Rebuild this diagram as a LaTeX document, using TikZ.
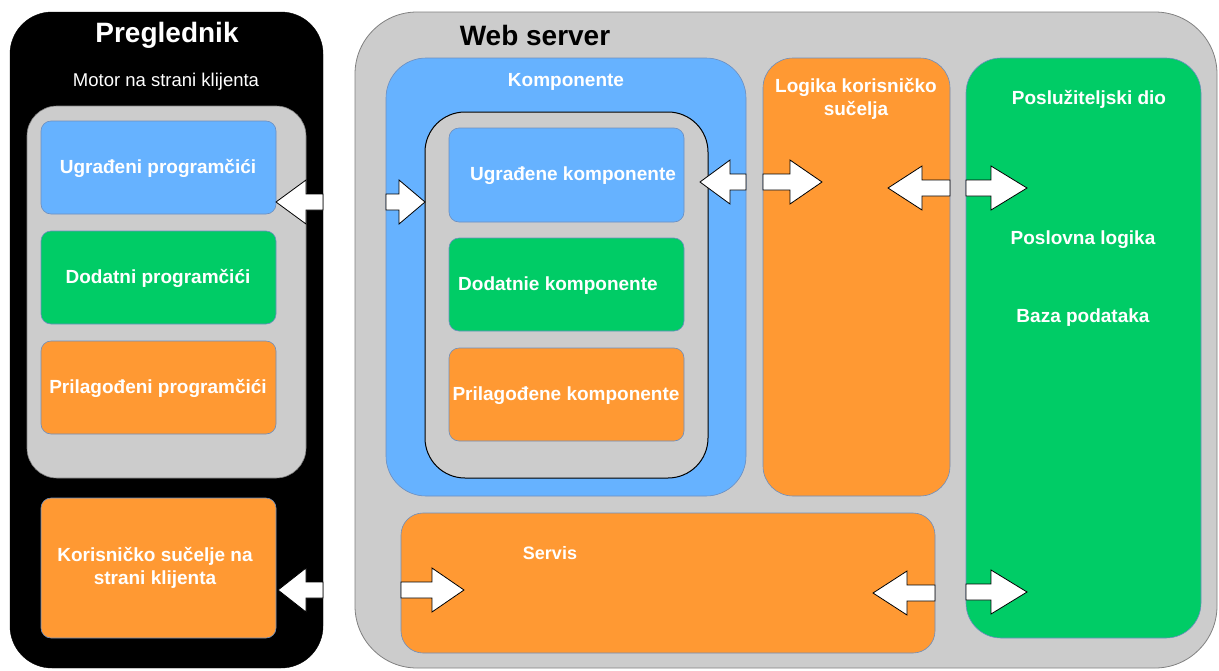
\documentclass[tikz,border=0pt]{standalone}
\usepackage{fontspec}
\setmainfont{Liberation Sans}
\definecolor{cblue}{HTML}{66B2FF}
\definecolor{cgreen}{HTML}{00CC66}
\definecolor{corange}{HTML}{FF9933}
\definecolor{cgray}{HTML}{CCCCCC}
\definecolor{cedge}{HTML}{6C8EBF}
\definecolor{gedge}{HTML}{808080}
\tikzset{
  px/.style={x=1pt,y=-1pt},
  lbl/.style={text=white,font=\fontsize{19}{23}\selectfont\bfseries,align=center,inner sep=0pt,yshift=-2pt},
  title/.style={text=black,font=\fontsize{28}{32}\selectfont\bfseries,inner sep=0pt,yshift=-2pt},
  inbox/.style={draw=cedge,line width=0.6pt,rounded corners=10pt},
  barrow/.style={draw=black,fill=white,line width=0.8pt,line join=miter},
}
% right-pointing block arrow: tail x, tip x, centre y, head length
\newcommand{\arrR}[4]{\draw[barrow] ({#1},{#3-8}) -- ({#2-#4},{#3-8}) -- ({#2-#4},{#3-22}) -- ({#2},{#3}) -- ({#2-#4},{#3+22}) -- ({#2-#4},{#3+8}) -- ({#1},{#3+8}) -- cycle;}
% left-pointing block arrow: tip x, tail x, centre y, head length
\newcommand{\arrL}[4]{\draw[barrow] ({#2},{#3-8}) -- ({#1+#4},{#3-8}) -- ({#1+#4},{#3-22}) -- ({#1},{#3}) -- ({#1+#4},{#3+22}) -- ({#1+#4},{#3+8}) -- ({#2},{#3+8}) -- cycle;}
\begin{document}
\begin{tikzpicture}[px]
\useasboundingbox (0,0) rectangle (1219,670);
% Preglednik
\path[fill=black,draw=black,rounded corners=42pt] (10,12) rectangle (323,668);
\node[title,text=white] (pregl) at (167,33) {Preglednik};
\node[inner sep=0pt,yshift=-2pt,text=white,font=\fontsize{18.5}{22}\selectfont] (motor) at (166,80) {Motor na strani klijenta};
\path[fill=cgray,draw=gedge,line width=0.6pt,rounded corners=30pt] (27,106) rectangle (306,478);
\path[inbox,fill=cblue] (41,121) rectangle (276,214);
\node[lbl] (ugp) at (158,166) {Ugrađeni programčići};
\path[inbox,fill=cgreen] (41,231) rectangle (276,324);
\node[lbl] (dop) at (158,276) {Dodatni programčići};
\path[inbox,fill=corange] (41,341) rectangle (276,434);
\node[lbl] (prp) at (158,386) {Prilagođeni programčići};
\path[inbox,fill=corange] (41,498) rectangle (276,638);
\node[lbl] (kor) at (155,566) {Korisničko sučelje na\\strani klijenta};
% Web server
\path[fill=cgray,draw=gedge,line width=0.8pt,rounded corners=62pt] (355,12) rectangle (1217,668);
\node[title] (web) at (535,33) {Web server};
\path[fill=cblue,draw=cedge,line width=0.6pt,rounded corners=40pt] (386,58) rectangle (746,496);
\node[lbl] (komp) at (566,80) {Komponente};
\path[fill=cgray,draw=black,line width=1pt,rounded corners=40pt] (425,112) rectangle (708,478);
\path[inbox,fill=cblue] (449,128) rectangle (684,222);
\node[lbl] (ugk) at (573,174) {Ugrađene komponente};
\path[inbox,fill=cgreen] (449,238) rectangle (684,331);
\node[lbl] (dok) at (558,284) {Dodatnie komponente};
\path[inbox,fill=corange] (449,348) rectangle (684,441);
\node[lbl] (prk) at (566,394) {Prilagođene komponente};
\path[fill=corange,draw=cedge,line width=0.6pt,rounded corners=30pt] (763,58) rectangle (950,496);
\node[lbl] (log) at (856,97) {Logika korisničko\\sučelja};
\path[fill=cgreen,draw=cedge,line width=0.6pt,rounded corners=35pt] (966,58) rectangle (1201,638);
\node[lbl] (posl) at (1089,97) {Poslužiteljski dio};
\node[lbl] (plog) at (1083,238) {Poslovna logika};
\node[lbl] (baza) at (1083,316) {Baza podataka};
\path[fill=corange,draw=cedge,line width=0.6pt,rounded corners=22pt] (401,513) rectangle (935,653);
\node[lbl,font=\fontsize{18}{22}\selectfont\bfseries] (serv) at (550,551) {Servis};
% block arrows
\arrL{276}{323}{202}{30}
\arrR{386}{425}{202}{26}
\arrL{700}{746}{182}{30}
\arrR{763}{822}{182}{32}
\arrL{888}{950}{188}{34}
\arrR{966}{1027}{188}{36}
\arrL{278}{323}{590}{28}
\arrR{401}{464}{590}{32}
\arrL{873}{935}{593}{34}
\arrR{966}{1027}{592}{36}
\end{tikzpicture}
\end{document}
